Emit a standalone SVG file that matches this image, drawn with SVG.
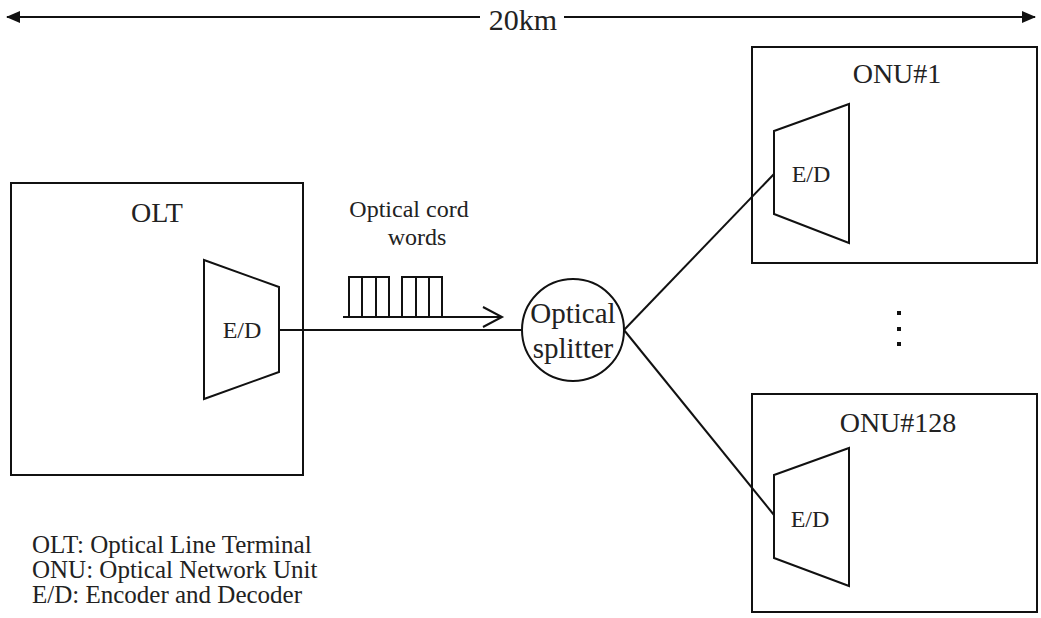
<svg xmlns="http://www.w3.org/2000/svg" width="1041" height="618" viewBox="0 0 1041 618">
<style>
.s{fill:none;stroke:#111;stroke-width:2}
.w{fill:#fff;stroke:#111;stroke-width:2}
text{font-family:"Liberation Serif","Times New Roman",serif;fill:#222}
.lbl{font-size:28px;text-anchor:middle}
.ed{font-size:24px;text-anchor:middle}
.leg{font-size:25px}
</style>
<defs>
<marker id="fa" markerWidth="14" markerHeight="12" refX="13" refY="6" orient="auto-start-reverse" markerUnits="userSpaceOnUse">
<path d="M0,0 L14,6 L0,12 Z" fill="#111"/>
</marker>
</defs>
<rect width="1041" height="618" fill="#fff"/>
<g id="distance">
<line class="s" x1="7" y1="17" x2="480" y2="17" marker-start="url(#fa)"/>
<line class="s" x1="564" y1="17" x2="1035" y2="17" marker-end="url(#fa)"/>
<text x="523" y="30" font-size="30" text-anchor="middle">20km</text>
</g>
<g id="olt">
<rect class="s" x="11" y="183" width="292" height="292"/>
<text class="lbl" x="157" y="222">OLT</text>
<polygon class="w" points="204,260 279,287 279,372 204,399"/>
<text class="ed" x="242" y="338">E/D</text>
</g>
<g id="splitter">
<circle class="w" cx="573" cy="330" r="51"/>
<text x="573" y="323" font-size="29" text-anchor="middle">Optical</text>
<text x="573" y="358" font-size="29" text-anchor="middle">splitter</text>
</g>
<g id="onu1">
<rect class="s" x="752" y="47" width="285" height="216"/>
<text class="lbl" x="897" y="83">ONU#1</text>
<polygon class="w" points="774,131 849,104 849,243 774,214"/>
<text class="ed" x="811" y="182">E/D</text>
</g>
<g id="onu128">
<rect class="s" x="752" y="394" width="285" height="218"/>
<text class="lbl" x="898" y="432">ONU#128</text>
<polygon class="w" points="774,475 849,448 849,586 774,558"/>
<text class="ed" x="810" y="527">E/D</text>
</g>
<g id="ellipsis" fill="#111">
<rect x="897" y="311" width="4" height="4"/>
<rect x="897" y="327" width="4" height="4"/>
<rect x="897" y="342" width="4" height="4"/>
</g>
<g id="codewords">
<text x="409" y="217" font-size="24" text-anchor="middle">Optical cord</text>
<text x="417" y="245" font-size="24" text-anchor="middle">words</text>
<path class="s" d="M349,317 V277 H389 V317 M362,277 V317 M376,277 V317"/>
<path class="s" d="M402,317 V277 H442 V317 M416,277 V317 M429,277 V317"/>
<line class="s" x1="343" y1="317" x2="501" y2="317"/>
<polyline class="s" points="483,307 502,317 483,327"/>
</g>
<g id="connectors">
<line class="s" x1="279" y1="330" x2="522" y2="330"/>
<line class="s" x1="624" y1="330" x2="774" y2="174"/>
<line class="s" x1="624" y1="330" x2="774" y2="515"/>
</g>
<g id="legend">
<text class="leg" x="32" y="553">OLT: Optical Line Terminal</text>
<text class="leg" x="32" y="578">ONU: Optical Network Unit</text>
<text class="leg" x="32" y="603">E/D: Encoder and Decoder</text>
</g>
</svg>
